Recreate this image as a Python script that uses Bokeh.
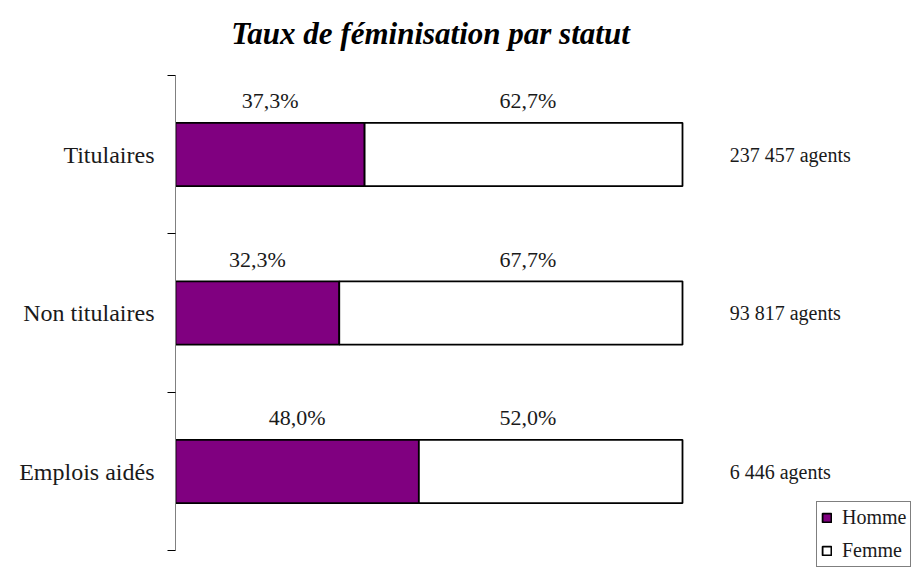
from bokeh.plotting import figure
from bokeh.models import (ColumnDataSource, Range1d, LinearAxis, FixedTicker,
                          Legend, LegendItem)
from bokeh.core.properties import value
from bokeh.embed import file_html
from bokeh.resources import INLINE

# ---- data ----
statuts = ["Titulaires", "Non titulaires", "Emplois aidés"]
homme = [37.3, 32.3, 48.0]
femme = [62.7, 67.7, 52.0]
agents = [237457, 93817, 6446]
title_text = "Taux de féminisation par statut"

FONT = "Liberation Serif"
n = len(statuts)
ypos = [n - 1 - i for i in range(n)]  # top to bottom

W, H = 919, 567
LEFT = 175
PX_X = 5.07      # px per percent
PX_Y = 158.5     # px per category
Y0 = 471         # pixel row of the bottom category centre

def pct(v):
    return f"{v:.1f}".replace(".", ",") + "%"

def fmt_agents(v):
    return f"{v:,}".replace(",", " ") + " agents"

src = ColumnDataSource(dict(
    y=ypos,
    homme=homme,
    total=[h + f for h, f in zip(homme, femme)],
    h_mid=[h / 2 for h in homme],
    f_mid=[69.5 for _ in homme],
    lab_y=[y + 0.34 for y in ypos],
    h_lab=[pct(v) for v in homme],
    f_lab=[pct(v) for v in femme],
    ag_x=[109.3 for _ in agents],
    ag_lab=[fmt_agents(v) for v in agents],
))

p = figure(width=W, height=H, output_backend="svg", toolbar_location=None,
           x_range=Range1d(0, (W - LEFT) / PX_X),
           y_range=Range1d(-(H - Y0) / PX_Y, Y0 / PX_Y),
           min_border_left=LEFT, min_border_right=0, min_border_top=0,
           min_border_bottom=0, x_axis_type=None, y_axis_type=None)
p.outline_line_color = None
p.grid.visible = False
p.background_fill_color = "white"

yaxis = LinearAxis(bounds=(-0.5, n - 0.5))
yaxis.ticker = FixedTicker(ticks=list(range(n)),
                           minor_ticks=[i - 0.5 for i in range(n + 1)])
yaxis.major_label_overrides = {y: s for y, s in zip(ypos, statuts)}
yaxis.major_tick_out = 0
yaxis.major_tick_in = 0
yaxis.minor_tick_out = 8
yaxis.minor_tick_in = 0
yaxis.minor_tick_line_color = "black"
yaxis.axis_line_color = "#808080"
yaxis.major_label_standoff = 13
yaxis.major_label_text_font = FONT
yaxis.major_label_text_font_size = "24px"
yaxis.major_label_text_color = "#1a1a1a"
p.add_layout(yaxis, "left")

rh = p.hbar(y="y", left=0, right="homme", height=0.4, source=src,
            fill_color="#800080", line_color="black", line_width=1.8)
rf = p.hbar(y="y", left="homme", right="total", height=0.4, source=src,
            fill_color="white", line_color="black", line_width=1.8)

p.text(x="h_mid", y="lab_y", text="h_lab", source=src, text_font=value(FONT),
       text_font_size="22px", text_align="center", text_baseline="middle",
       text_color="#1a1a1a")
p.text(x="f_mid", y="lab_y", text="f_lab", source=src, text_font=value(FONT),
       text_font_size="22px", text_align="center", text_baseline="middle",
       text_color="#1a1a1a")
p.text(x="ag_x", y="y", text="ag_lab", source=src, text_font=value(FONT),
       text_font_size="20px", text_align="left", text_baseline="middle",
       text_color="#1a1a1a")

p.text(x=[(430 - LEFT) / PX_X], y=[(Y0 - 33) / PX_Y], text=[title_text],
       text_font=value(FONT), text_font_size="31px",
       text_font_style="bold italic", text_align="center",
       text_baseline="middle", text_color="black")

legend = Legend(items=[LegendItem(label="Homme", renderers=[rh]),
                       LegendItem(label="Femme", renderers=[rf])],
                location=(816 - LEFT, 0), glyph_width=11, glyph_height=11,
                label_text_font=FONT, label_text_font_size="20px",
                label_text_color="#1a1a1a",
                label_standoff=10, padding=4, spacing=10, margin=0,
                border_line_color="black", border_line_width=1,
                background_fill_alpha=1.0, label_height=20)
p.add_layout(legend)

open("out.html", "w").write(file_html(p, INLINE))
